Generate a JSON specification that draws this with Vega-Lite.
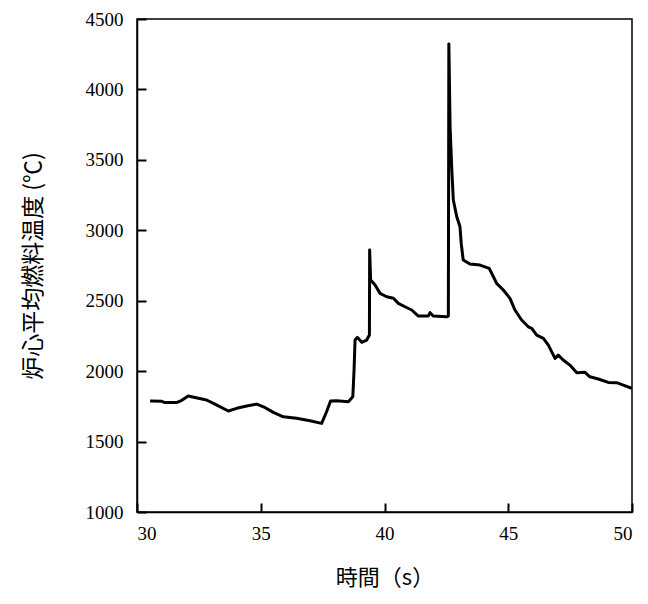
{
  "$schema": "https://vega.github.io/schema/vega-lite/v6.json",
  "autosize": "none",
  "padding": {"left": 137, "top": 19, "right": 16, "bottom": 92},
  "width": 495,
  "height": 493,
  "background": "white",
  "config": {
    "view": {"stroke": "black", "strokeWidth": 1.5},
    "axis": {
      "domainColor": "black",
      "domainWidth": 1.5,
      "tickColor": "black",
      "grid": false,
      "labelColor": "black",
      "titleFontWeight": "normal",
      "titleColor": "black"
    }
  },
  "data": {"values": [
    {"t": 30.53, "temp": 1788},
    {"t": 31.0, "temp": 1786},
    {"t": 31.13, "temp": 1777},
    {"t": 31.6, "temp": 1777},
    {"t": 31.81, "temp": 1793},
    {"t": 32.07, "temp": 1824},
    {"t": 32.34, "temp": 1813},
    {"t": 32.81, "temp": 1795},
    {"t": 33.15, "temp": 1766},
    {"t": 33.69, "temp": 1717},
    {"t": 34.03, "temp": 1736},
    {"t": 34.43, "temp": 1752},
    {"t": 34.84, "temp": 1766},
    {"t": 35.11, "temp": 1747},
    {"t": 35.51, "temp": 1707},
    {"t": 35.91, "temp": 1676},
    {"t": 36.45, "temp": 1665},
    {"t": 36.99, "temp": 1648},
    {"t": 37.46, "temp": 1629},
    {"t": 37.66, "temp": 1712},
    {"t": 37.82, "temp": 1788},
    {"t": 38.06, "temp": 1790},
    {"t": 38.54, "temp": 1783},
    {"t": 38.72, "temp": 1818},
    {"t": 38.77, "temp": 2008},
    {"t": 38.81, "temp": 2221},
    {"t": 38.9, "temp": 2240},
    {"t": 39.08, "temp": 2205},
    {"t": 39.28, "temp": 2221},
    {"t": 39.39, "temp": 2256},
    {"t": 39.4, "temp": 2860},
    {"t": 39.44, "temp": 2647},
    {"t": 39.62, "temp": 2611},
    {"t": 39.82, "temp": 2552},
    {"t": 40.09, "temp": 2528},
    {"t": 40.36, "temp": 2517},
    {"t": 40.56, "temp": 2481},
    {"t": 40.83, "temp": 2457},
    {"t": 41.1, "temp": 2434},
    {"t": 41.37, "temp": 2391},
    {"t": 41.77, "temp": 2391},
    {"t": 41.84, "temp": 2415},
    {"t": 41.97, "temp": 2391},
    {"t": 42.51, "temp": 2386},
    {"t": 42.58, "temp": 2391},
    {"t": 42.6, "temp": 4322},
    {"t": 42.65, "temp": 3735},
    {"t": 42.72, "temp": 3428},
    {"t": 42.78, "temp": 3215},
    {"t": 42.92, "temp": 3096},
    {"t": 43.05, "temp": 3025},
    {"t": 43.1, "temp": 2907},
    {"t": 43.18, "temp": 2789},
    {"t": 43.45, "temp": 2760},
    {"t": 43.86, "temp": 2753},
    {"t": 44.23, "temp": 2730},
    {"t": 44.4, "temp": 2670},
    {"t": 44.53, "temp": 2623},
    {"t": 44.8, "temp": 2576},
    {"t": 45.07, "temp": 2517},
    {"t": 45.27, "temp": 2434},
    {"t": 45.54, "temp": 2363},
    {"t": 45.81, "temp": 2315},
    {"t": 45.95, "temp": 2304},
    {"t": 46.15, "temp": 2256},
    {"t": 46.42, "temp": 2233},
    {"t": 46.62, "temp": 2185},
    {"t": 46.89, "temp": 2091},
    {"t": 47.02, "temp": 2114},
    {"t": 47.22, "temp": 2079},
    {"t": 47.49, "temp": 2043},
    {"t": 47.77, "temp": 1989},
    {"t": 48.1, "temp": 1992},
    {"t": 48.3, "temp": 1960},
    {"t": 48.64, "temp": 1944},
    {"t": 49.04, "temp": 1920},
    {"t": 49.38, "temp": 1918},
    {"t": 49.65, "temp": 1901},
    {"t": 49.99, "temp": 1878}
  ]},
  "mark": {"type": "line", "color": "black", "strokeWidth": 3, "strokeJoin": "round", "clip": true},
  "encoding": {
    "x": {
      "field": "t", "type": "quantitative",
      "scale": {"domain": [30, 50], "nice": false, "zero": false},
      "axis": {"values": [30, 35, 40, 45, 50], "format": "d", "tickSize": -9, "tickWidth": 2, "labelPadding": 21,
        "labelFont": "Liberation Serif", "labelFontSize": 19,
        "title": "時間（s）", "titleFont": "Noto Sans CJK JP", "titleFontSize": 22, "titlePadding": 24}
    },
    "y": {
      "field": "temp", "type": "quantitative",
      "scale": {"domain": [1000, 4500], "nice": false, "zero": false},
      "axis": {"values": [1000, 1500, 2000, 2500, 3000, 3500, 4000, 4500], "format": "d", "tickSize": -9, "tickWidth": 2, "labelPadding": 23,
        "labelFont": "Liberation Serif", "labelFontSize": 19,
        "title": "炉心平均燃料温度 (℃)", "titleFont": "Noto Sans CJK JP", "titleFontSize": 23, "titlePadding": 40}
    }
  }
}
